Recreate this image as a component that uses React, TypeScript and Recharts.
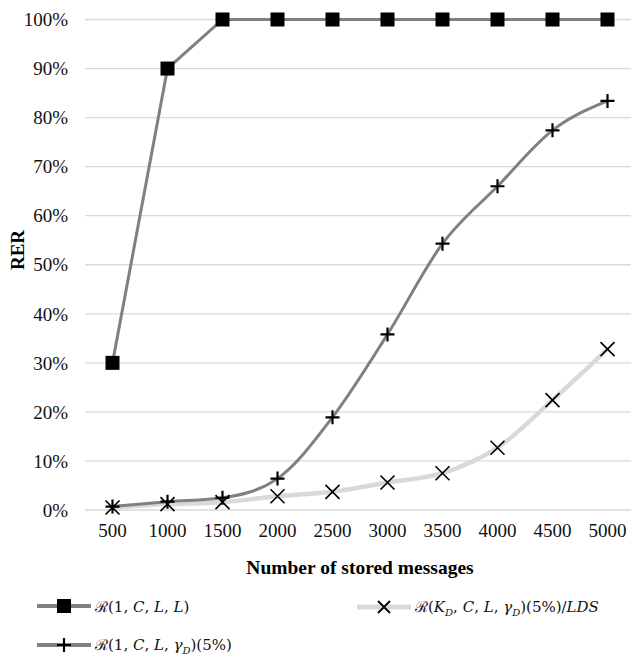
import React from 'react';
import { LineChart, Line, XAxis, YAxis, CartesianGrid } from 'recharts';

const categories = ['500', '1000', '1500', '2000', '2500', '3000', '3500', '4000', '4500', '5000'];
const fullKeySeries = [30, 90, 100, 100, 100, 100, 100, 100, 100, 100];
const ldsSeries = [0.5, 1.2, 1.6, 2.8, 3.7, 5.6, 7.5, 12.7, 22.4, 32.8];
const gammaSeries = [0.7, 1.7, 2.5, 6.4, 18.9, 35.8, 54.3, 66.0, 77.4, 83.4];
const yTicks = [0, 10, 20, 30, 40, 50, 60, 70, 80, 90, 100];

const data = categories.map((c, i) => ({
  n: c,
  full: fullKeySeries[i],
  lds: ldsSeries[i],
  gamma: gammaSeries[i],
}));

const FONT = "'Liberation Serif', 'Times New Roman', serif";

const SquareDot = (props: any) => {
  const { cx, cy } = props;
  if (cx == null || cy == null) return null;
  return <rect x={cx - 7} y={cy - 7} width={14} height={14} fill="#000" />;
};

const PlusDot = (props: any) => {
  const { cx, cy } = props;
  if (cx == null || cy == null) return null;
  return <path d={`M${cx - 7},${cy}H${cx + 7}M${cx},${cy - 7}V${cy + 7}`} stroke="#000" strokeWidth={2.2} fill="none" />;
};

const CrossDot = (props: any) => {
  const { cx, cy } = props;
  if (cx == null || cy == null) return null;
  return <path d={`M${cx - 7},${cy - 7}L${cx + 7},${cy + 7}M${cx + 7},${cy - 7}L${cx - 7},${cy + 7}`} stroke="#000" strokeWidth={1.6} fill="none" />;
};

const LegendIcon = ({ color, width, marker }: { color: string; width: number; marker: 'square' | 'plus' | 'cross' }) => (
  <svg width={54} height={20} style={{ display: 'block' }}>
    <line x1={0} y1={10} x2={54} y2={10} stroke={color} strokeWidth={width} strokeLinecap="round" />
    {marker === 'square' && <rect x={20} y={3} width={14} height={14} fill="#000" />}
    {marker === 'plus' && <path d="M20,10H34M27,3V17" stroke="#000" strokeWidth={2.2} />}
    {marker === 'cross' && <path d="M21,4L33,16M33,4L21,16" stroke="#000" strokeWidth={1.8} />}
  </svg>
);

const mathStyle: React.CSSProperties = { fontFamily: "'DejaVu Serif', 'Liberation Serif', serif", fontSize: 15, color: '#111', whiteSpace: 'nowrap' };
const it: React.CSSProperties = { fontStyle: 'italic' };

const LegendItem = ({ left, top, icon, children }: any) => (
  <div style={{ position: 'absolute', left, top, display: 'flex', alignItems: 'center' }}>
    {icon}
    <span style={{ ...mathStyle, marginLeft: 4 }}>{children}</span>
  </div>
);

const RerLabel = () => (
  <text x={17} y={250} transform="rotate(-90, 17, 250)" textAnchor="middle" dominantBaseline="central"
    style={{ fontFamily: FONT, fontSize: 19, fontWeight: 'bold', fill: '#000' }}>
    RER
  </text>
);

export default function App() {
  return (
    <div style={{ position: 'fixed', left: 0, top: 0, width: 631, height: 657, overflow: 'hidden', background: '#fff', fontFamily: FONT }}>
      <LineChart width={640} height={580} data={data} margin={{ top: 19.5, right: 5, left: 0, bottom: 0 }} style={{ fontFamily: FONT }}>
        <CartesianGrid vertical={false} stroke="#d9d9d9" strokeWidth={1.3} />
        <XAxis
          dataKey="n"
          axisLine={false}
          tickLine={false}
          tickSize={0}
          tickMargin={14}
          height={70}
          interval={0}
          padding={{ left: 27.5, right: 27.5 }}
          tick={{ fontSize: 19, fill: '#111', fontFamily: FONT }}
          label={{ value: 'Number of stored messages', position: 'insideBottom', offset: 6, style: { fontFamily: FONT, fontSize: 19.5, fontWeight: 'bold', fill: '#000' } }}
        />
        <YAxis
          width={85}
          domain={[0, 100]}
          ticks={yTicks}
          interval={0}
          axisLine={false}
          tickLine={false}
          tickSize={0}
          tickMargin={17}
          tickFormatter={(v: number) => `${v}%`}
          tick={{ fontSize: 19, fill: '#111', fontFamily: FONT }}
          label={<RerLabel />}
        />
        <Line type="linear" dataKey="full" stroke="#808080" strokeWidth={3} dot={<SquareDot />} activeDot={false} isAnimationActive={false} />
        <Line type="monotone" dataKey="lds" stroke="#d9d9d9" strokeWidth={4.5} dot={<CrossDot />} activeDot={false} isAnimationActive={false} />
        <Line type="monotone" dataKey="gamma" stroke="#808080" strokeWidth={3} dot={<PlusDot />} activeDot={false} isAnimationActive={false} />
      </LineChart>
      <LegendItem left={37} top={596} icon={<LegendIcon color="#808080" width={4} marker="square" />}>
        ℛ(1, <span style={it}>C</span>, <span style={it}>L</span>, <span style={it}>L</span>)
      </LegendItem>
      <LegendItem left={357} top={596} icon={<LegendIcon color="#d9d9d9" width={5} marker="cross" />}>
        ℛ(<span style={it}>K<sub style={{ fontSize: 10 }}>D</sub></span>, <span style={it}>C</span>, <span style={it}>L</span>, <span style={it}>γ<sub style={{ fontSize: 10 }}>D</sub></span>)(5%)/<span style={it}>LDS</span>
      </LegendItem>
      <LegendItem left={37} top={634} icon={<LegendIcon color="#808080" width={4} marker="plus" />}>
        ℛ(1, <span style={it}>C</span>, <span style={it}>L</span>, <span style={it}>γ<sub style={{ fontSize: 10 }}>D</sub></span>)(5%)
      </LegendItem>
    </div>
  );
}
